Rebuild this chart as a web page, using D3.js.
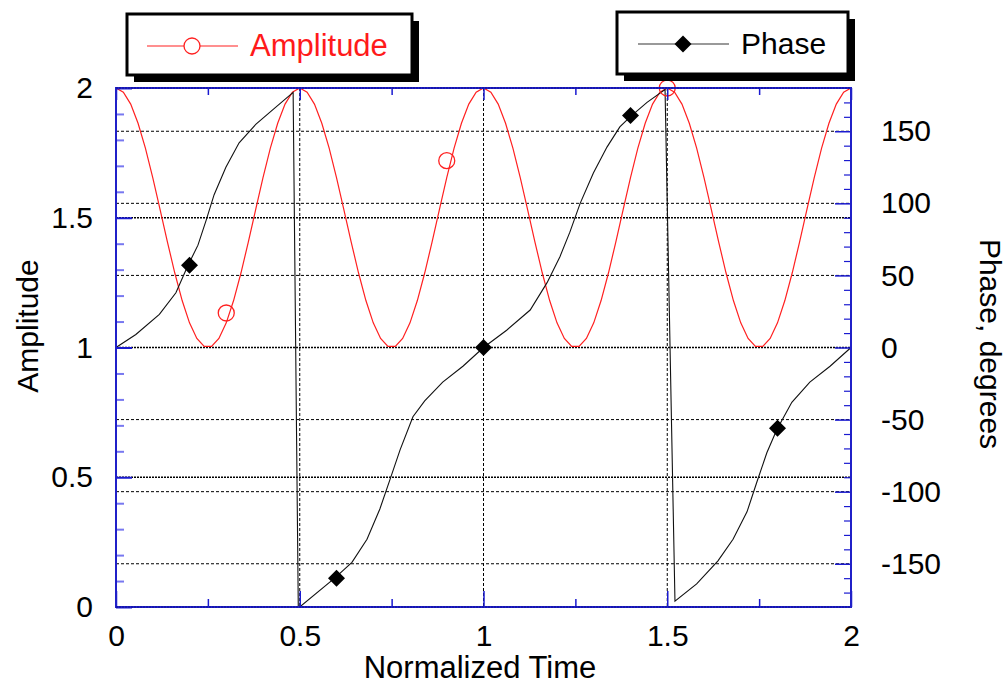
<!DOCTYPE html>
<html>
<head>
<meta charset="utf-8">
<script src="https://cdn.jsdelivr.net/npm/d3@7"></script>
<style>
  html, body { margin: 0; padding: 0; background: #fff; }
  svg { display: block; }
  text { font-family: "Liberation Sans", Arial, sans-serif; }
</style>
</head>
<body>
<svg id="chart" width="1008" height="683"></svg>
<script>
// ---------------- data ----------------
const timeSamples = [0,0.02,0.04,0.06,0.08,0.10,0.12,0.14,0.16,0.18,0.20,0.22,0.24,0.26,0.28,0.30,0.32,0.34,0.36,0.38,0.40,0.42,0.44,0.46,0.48,
  0.50,0.52,0.54,0.56,0.58,0.60,0.62,0.64,0.66,0.68,0.70,0.72,0.74,0.76,0.78,0.80,0.82,0.84,0.86,0.88,0.90,0.92,0.94,0.96,0.98,
  1.00,1.02,1.04,1.06,1.08,1.10,1.12,1.14,1.16,1.18,1.20,1.22,1.24,1.26,1.28,1.30,1.32,1.34,1.36,1.38,1.40,1.42,1.44,1.46,1.48,
  1.50,1.52,1.54,1.56,1.58,1.60,1.62,1.64,1.66,1.68,1.70,1.72,1.74,1.76,1.78,1.80,1.82,1.84,1.86,1.88,1.90,1.92,1.94,1.96,1.98,2.00];
const amplitudeValues = [2.0,1.984,1.938,1.864,1.768,1.655,1.531,1.406,1.287,1.181,1.095,1.035,1.004,1.004,1.035,1.095,1.181,1.287,1.406,1.531,1.655,1.768,1.864,1.938,1.984,
  2.0,1.984,1.938,1.864,1.768,1.655,1.531,1.406,1.287,1.181,1.095,1.035,1.004,1.004,1.035,1.095,1.181,1.287,1.406,1.531,1.655,1.768,1.864,1.938,1.984,
  2.0,1.984,1.938,1.864,1.768,1.655,1.531,1.406,1.287,1.181,1.095,1.035,1.004,1.004,1.035,1.095,1.181,1.287,1.406,1.531,1.655,1.768,1.864,1.938,1.984,
  2.0,1.984,1.938,1.864,1.768,1.655,1.531,1.406,1.287,1.181,1.095,1.035,1.004,1.004,1.035,1.095,1.181,1.287,1.406,1.531,1.655,1.768,1.864,1.938,1.984,
  2.0];
const amplitudeMarkerT = [0.3, 0.9, 1.5];
const amplitudeMarkerV = [1.133, 1.72, 2.0];

const phaseT = [0,0.054,0.118,0.163,0.196,0.223,0.245,0.267,0.299,0.335,0.381,0.427,0.482,
  0.496,0.5,
  0.595,0.642,0.683,0.718,0.745,0.773,0.808,0.840,0.889,0.944,1.0,
  1.063,1.127,1.173,1.208,1.235,1.263,1.299,1.336,1.371,1.399,1.445,1.494,
  1.521,1.58,1.638,1.679,1.717,1.743,1.771,1.798,1.839,1.888,1.943,2.0];
const phaseValues = [0,9,23,38,57,71,88,106,125,142,155,165,177,
  -180,-180,
  -160,-149,-133,-112,-92,-71,-48,-37,-24,-13,0,
  12,26,45,63,80,100,121,139,153,160,170,179,
  -176,-164,-148,-133,-114,-94,-73,-57,-38,-24,-13,0];
const phaseMarkerT = [0.2, 0.6, 1.0, 1.4, 1.8];
const phaseMarkerV = [57, -160, 0, 161, -56];

const xTicks = [0, 0.5, 1, 1.5, 2];
const xTickLabels = ["0", "0.5", "1", "1.5", "2"];
const xMinorTicks = [0.25, 0.75, 1.25, 1.75];
const ampTicks = [0, 0.5, 1, 1.5, 2];
const ampTickLabels = ["0", "0.5", "1", "1.5", "2"];
const ampMinorTicks = [0.1,0.2,0.3,0.4,0.6,0.7,0.8,0.9,1.1,1.2,1.3,1.4,1.6,1.7,1.8,1.9];
const phaseTicks = [-150, -100, -50, 0, 50, 100, 150];
const phaseTickLabels = ["-150", "-100", "-50", "0", "50", "100", "150"];
const phaseMinorTicks = [-170,-160,-140,-130,-120,-110,-90,-80,-70,-60,-40,-30,-20,-10,10,20,30,40,60,70,80,90,110,120,130,140,160,170];

// ---------------- layout ----------------
const L = 116, R = 851, T = 88, B = 607;
const svg = d3.select("#chart");
const x = d3.scaleLinear().domain([0, 2]).range([L, R]);
const yA = d3.scaleLinear().domain([0, 2]).range([B, T]);
const yP = d3.scaleLinear().domain([-180, 180]).range([B, T]);
const FONT = 30;

// ---------------- grid ----------------
const grid = svg.append("g");
grid.selectAll("line.gp").data(phaseTicks.filter(d => d !== 0)).join("line")
  .attr("x1", L).attr("x2", R)
  .attr("y1", d => yP(d)).attr("y2", d => yP(d))
  .attr("stroke", "#000").attr("stroke-width", 1).attr("stroke-dasharray", "3,2");
grid.selectAll("line.ga").data(ampTicks.filter(d => d > 0 && d < 2)).join("line")
  .attr("x1", L).attr("x2", R)
  .attr("y1", d => yA(d)).attr("y2", d => yA(d))
  .attr("stroke", "#000").attr("stroke-width", 1.6).attr("stroke-dasharray", "2,1");
grid.selectAll("line.gx").data(xTicks.filter(d => d > 0 && d < 2)).join("line")
  .attr("x1", d => x(d)).attr("x2", d => x(d))
  .attr("y1", T).attr("y2", B)
  .attr("stroke", "#000").attr("stroke-width", 1).attr("stroke-dasharray", "3,2");

// ---------------- series ----------------
const ampData = timeSamples.map((t, i) => [t, amplitudeValues[i]]);
svg.append("path").datum(ampData)
  .attr("fill", "none").attr("stroke", "#ff2020").attr("stroke-width", 1.2)
  .attr("d", d3.line().x(d => x(d[0])).y(d => yA(d[1])));

const phaseData = phaseT.map((t, i) => [t, phaseValues[i]]);
svg.append("path").datum(phaseData)
  .attr("fill", "none").attr("stroke", "#111").attr("stroke-width", 1.1)
  .attr("d", d3.line().x(d => x(d[0])).y(d => yP(d[1])));

svg.selectAll("circle.am").data(amplitudeMarkerT.map((t, i) => [t, amplitudeMarkerV[i]])).join("circle")
  .attr("cx", d => x(d[0])).attr("cy", d => yA(d[1])).attr("r", 8)
  .attr("fill", "none").attr("stroke", "#ff2020").attr("stroke-width", 1.3);

const diamond = s => `M0,${-s}L${s},0L0,${s}L${-s},0Z`;
svg.selectAll("path.pm").data(phaseMarkerT.map((t, i) => [t, phaseMarkerV[i]])).join("path")
  .attr("transform", d => `translate(${x(d[0])},${yP(d[1])})`)
  .attr("d", diamond(8.5)).attr("fill", "#000");

// ---------------- axes ----------------
const BLUE = "#1a1ad0", LIGHTBLUE = "#7878f0";
function styleAxis(g, color, width) {
  g.select(".domain").remove();
  g.selectAll(".tick line").attr("stroke", color).attr("stroke-width", width);
  g.selectAll(".tick text").attr("fill", "#000").attr("font-size", FONT)
    .attr("font-family", '"Liberation Sans", Arial, sans-serif');
}
styleAxis(svg.append("g").attr("transform", `translate(${L},0)`)
  .call(d3.axisLeft(yA).tickValues(ampMinorTicks).tickSize(-8).tickFormat("")), LIGHTBLUE, 2);
styleAxis(svg.append("g").attr("transform", `translate(${L},0)`)
  .call(d3.axisLeft(yA).tickValues(ampTicks).tickSize(-16).tickPadding(23)
    .tickFormat((d, i) => ampTickLabels[i])), BLUE, 2);
styleAxis(svg.append("g").attr("transform", `translate(${R},0)`)
  .call(d3.axisRight(yP).tickValues(phaseMinorTicks).tickSize(-7).tickFormat("")), BLUE, 1.2);
styleAxis(svg.append("g").attr("transform", `translate(${R},0)`)
  .call(d3.axisRight(yP).tickValues(phaseTicks).tickSize(-16).tickPadding(30)
    .tickFormat((d, i) => phaseTickLabels[i])), BLUE, 1.5);
styleAxis(svg.append("g").attr("transform", `translate(0,${B})`)
  .call(d3.axisBottom(x).tickValues(xMinorTicks).tickSize(-8).tickFormat("")), BLUE, 1.5);
styleAxis(svg.append("g").attr("transform", `translate(0,${B})`)
  .call(d3.axisBottom(x).tickValues(xTicks).tickSize(-16).tickPadding(18)
    .tickFormat((d, i) => xTickLabels[i])), BLUE, 1.5);
styleAxis(svg.append("g").attr("transform", `translate(0,${T})`)
  .call(d3.axisTop(x).tickValues(xMinorTicks).tickSize(-7).tickFormat("")), BLUE, 1.5);
styleAxis(svg.append("g").attr("transform", `translate(0,${T})`)
  .call(d3.axisTop(x).tickValues(xTicks).tickSize(-12).tickFormat("")), BLUE, 1.5);

svg.append("rect").attr("x", L).attr("y", T).attr("width", R - L).attr("height", B - T)
  .attr("fill", "none").attr("stroke", "#2020c8").attr("stroke-width", 2);
svg.append("line").attr("x1", L).attr("x2", R).attr("y1", T).attr("y2", T)
  .attr("stroke", "#000070").attr("stroke-width", 1).attr("stroke-dasharray", "2,1").attr("opacity", 0.6);
svg.append("line").attr("x1", L).attr("x2", R).attr("y1", B).attr("y2", B)
  .attr("stroke", "#000070").attr("stroke-width", 1).attr("stroke-dasharray", "2,1").attr("opacity", 0.6);

// ---------------- titles ----------------
svg.append("text").attr("transform", `translate(27,326) rotate(-90)`)
  .attr("text-anchor", "middle").attr("dominant-baseline", "central")
  .attr("font-size", FONT).attr("fill", "#000").text("Amplitude");
svg.append("text").attr("transform", `translate(990,344) rotate(90)`)
  .attr("text-anchor", "middle").attr("dominant-baseline", "central")
  .attr("font-size", FONT).attr("fill", "#000").text("Phase, degrees");
svg.append("text").attr("x", 480).attr("y", 667)
  .attr("text-anchor", "middle").attr("dominant-baseline", "central")
  .attr("font-size", 31).attr("fill", "#000").text("Normalized Time");

// ---------------- legends ----------------
function legendBox(bx, by, bw, bh) {
  svg.append("rect").attr("x", bx + 7).attr("y", by + 7).attr("width", bw).attr("height", bh).attr("fill", "#000");
  svg.append("rect").attr("x", bx).attr("y", by).attr("width", bw).attr("height", bh)
    .attr("fill", "#fff").attr("stroke", "#000").attr("stroke-width", 3);
}
legendBox(127, 14, 285, 61);
svg.append("line").attr("x1", 147).attr("x2", 238).attr("y1", 46).attr("y2", 46)
  .attr("stroke", "#ff2020").attr("stroke-width", 1.2);
svg.append("circle").attr("cx", 192).attr("cy", 46).attr("r", 8)
  .attr("fill", "#fff").attr("stroke", "#ff2020").attr("stroke-width", 1.3);
svg.append("text").attr("x", 250).attr("y", 56).attr("font-size", 31).attr("fill", "#ff1a1a").text("Amplitude");

legendBox(617, 12, 231, 62);
svg.append("line").attr("x1", 638).attr("x2", 729).attr("y1", 44).attr("y2", 44)
  .attr("stroke", "#777").attr("stroke-width", 1.5);
svg.append("path").attr("transform", "translate(683,44)").attr("d", diamond(8.5)).attr("fill", "#000");
svg.append("text").attr("x", 741).attr("y", 54).attr("font-size", FONT).attr("fill", "#000").text("Phase");
</script>
</body>
</html>
